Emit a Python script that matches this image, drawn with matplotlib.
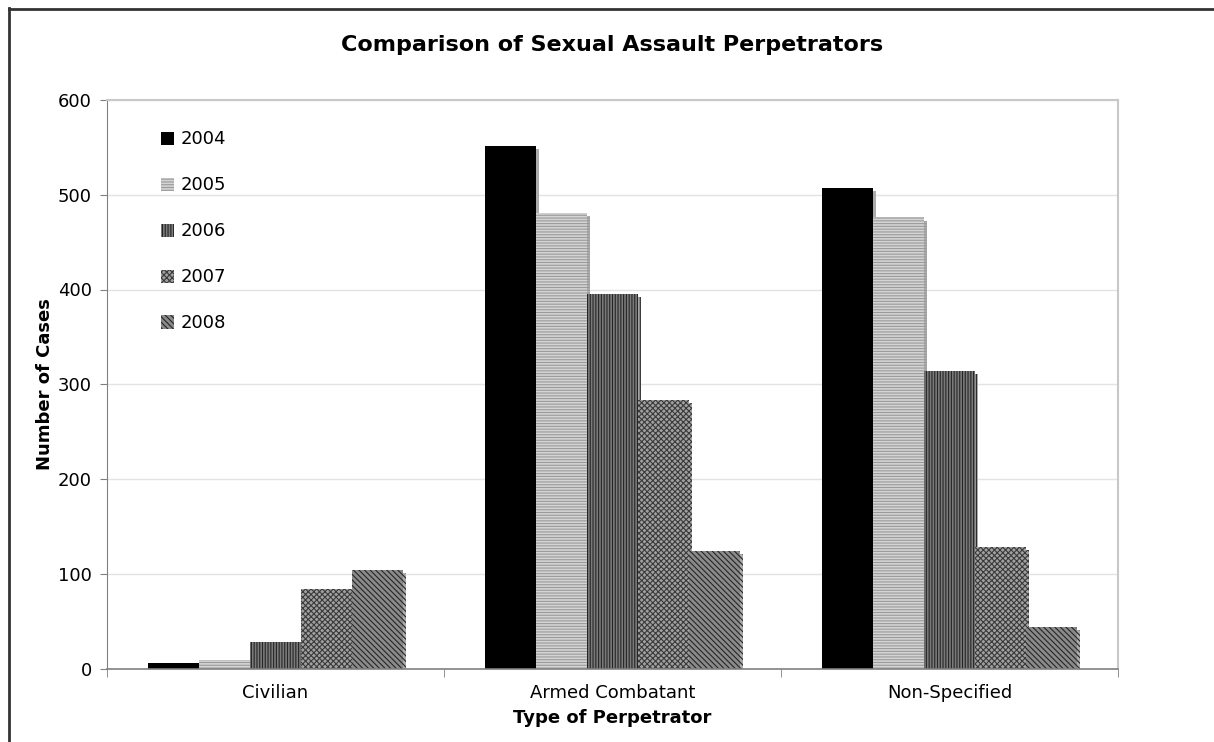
import matplotlib
matplotlib.use("Agg")
import matplotlib.pyplot as plt
import numpy as np
from matplotlib.patches import Patch
from matplotlib.lines import Line2D
import matplotlib.patheffects as pe

# Data
categories = ["Civilian", "Armed Combatant", "Non-Specified"]
years = ["2004", "2005", "2006", "2007", "2008"]
cases_2004 = [6, 551, 507]
cases_2005 = [9, 481, 476]
cases_2006 = [28, 395, 314]
cases_2007 = [84, 283, 128]
cases_2008 = [104, 124, 44]
series = [cases_2004, cases_2005, cases_2006, cases_2007, cases_2008]
y_ticks = [0, 100, 200, 300, 400, 500, 600]

# Fill styles per year: (face colour, hatch, hatch colour)
styles = [
    ("#000000", None, "#000000"),
    ("#d4d4d4", "------", "#9a9a9a"),
    ("#7a7a7a", "||||||", "#262626"),
    ("#a0a0a0", "xxxxxx", "#3a3a3a"),
    ("#8a8a8a", "\\\\\\\\\\\\", "#262626"),
]

plt.rcParams["font.family"] = ["DejaVu Sans"]
plt.rcParams["hatch.linewidth"] = 0.8

fig = plt.figure(figsize=(12.14, 7.42), dpi=100)
ax = fig.add_axes([107 / 1214, 1 - 668.5 / 742, (1118 - 107) / 1214, (668.5 - 100) / 742])

x = np.arange(len(categories))
bar_w = 0.151
shadow = [pe.SimplePatchShadow(offset=(2.2, -2.2), shadow_rgbFace="#ababab", alpha=1.0), pe.Normal()]

for i, vals in enumerate(series):
    face, hatch, hcol = styles[i]
    offs = (i - 2) * bar_w
    bars = ax.bar(x + offs, vals, width=bar_w, color=face, hatch=hatch,
                  edgecolor=hcol, linewidth=0, zorder=2)
    for b in bars:
        b.set_path_effects(shadow)

ax.set_xlim(-0.5, 2.5)
ax.set_ylim(0, 600)
ax.set_yticks(y_ticks)
ax.set_yticklabels([str(t) for t in y_ticks], fontsize=13)
ax.set_xticks(x)
ax.set_xticklabels(categories, fontsize=13)
ax.tick_params(axis="x", length=0, pad=11)
ax.tick_params(axis="y", length=5, color="#808080", pad=6)
# category separator ticks on the x axis
ax.set_xticks([-0.5, 0.5, 1.5, 2.5], minor=True)
ax.tick_params(axis="x", which="minor", length=6, color="#808080")

ax.yaxis.grid(True, color="#e3e3e3", linewidth=1)
ax.set_axisbelow(True)
for s in ["top", "right"]:
    ax.spines[s].set_color("#c8c8c8")
    ax.spines[s].set_linewidth(1.5)
ax.spines["left"].set_color("#808080")
ax.spines["bottom"].set_color("#808080")
ax.spines["bottom"].set_linewidth(1.2)

ax.set_xlabel("Type of Perpetrator", fontsize=13, fontweight="bold", labelpad=5)
ax.set_ylabel("Number of Cases", fontsize=13, fontweight="bold", labelpad=3)
fig.text(0.5 * (107 + 1118) / 1214, 1 - 45 / 742, "Comparison of Sexual Assault Perpetrators",
         ha="center", va="center", fontsize=16, fontweight="bold")

handles = [Patch(facecolor=f, hatch=h, edgecolor=c, linewidth=0) for f, h, c in styles]
ax.legend(handles, years, loc="upper left", bbox_to_anchor=(0.037, 0.975), frameon=False,
          fontsize=13, labelspacing=1.55, handlelength=0.75, handleheight=0.75,
          handletextpad=0.35)

# chart frame: top and left edges
fig.add_artist(Line2D([9 / 1214, 1], [1 - 8.5 / 742] * 2, color="#333333", lw=2))
fig.add_artist(Line2D([9 / 1214] * 2, [0, 1 - 8 / 742], color="#333333", lw=2))

fig.savefig("out.png", dpi=100, facecolor="white")
